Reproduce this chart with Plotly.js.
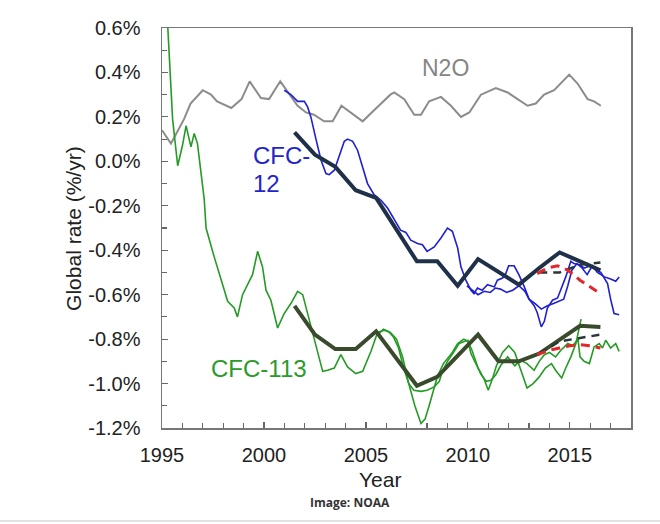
<!DOCTYPE html>
<html>
<head>
<meta charset="utf-8">
<script src="https://cdn.plot.ly/plotly-3.0.1.min.js"></script>
<style>html,body{margin:0;padding:0;background:#fff;}#chart{width:660px;height:524px;}</style>
</head>
<body>
<div id="chart"></div>
<script>
// ---- Data ----
const n2oX = [1995.0,1995.44,1996.08,1996.4,1997.0,1997.4,1997.7,1998.4,1998.9,1999.3,1999.85,2000.25,2000.8,2001.2,2001.65,2002.06,2002.45,2002.95,2003.37,2003.8,2004.27,2004.84,2005.4,2005.74,2006.2,2006.39,2006.88,2007.37,2007.7,2008.1,2008.68,2009.17,2009.66,2010.07,2010.64,2011.37,2011.95,2012.44,2012.93,2013.33,2013.74,2014.23,2014.97,2015.38,2015.87,2016.19,2016.52];
const n2oY = [0.14,0.08,0.19,0.26,0.32,0.30,0.27,0.24,0.28,0.36,0.285,0.28,0.36,0.31,0.25,0.22,0.21,0.18,0.18,0.25,0.22,0.18,0.23,0.26,0.30,0.31,0.28,0.21,0.21,0.27,0.29,0.25,0.20,0.22,0.30,0.33,0.31,0.28,0.25,0.26,0.30,0.32,0.39,0.35,0.28,0.27,0.25];

const cfc12aX = [2001.0,2001.32,2001.65,2001.98,2002.14,2002.3,2002.55,2002.8,2003.04,2003.2,2003.45,2003.69,2003.94,2004.1,2004.35,2004.59,2004.84,2005.08,2005.4,2005.74,2006.06,2006.39,2006.7,2006.96,2007.2,2007.53,2007.77,2008.0,2008.35,2008.68,2009.0,2009.24,2009.5,2009.66,2009.9,2010.15,2010.3,2010.47,2010.7,2010.96,2011.3,2011.45,2011.7,2011.86,2012.0,2012.27,2012.5,2012.77,2013.0,2013.25,2013.4,2013.6,2013.75,2013.9,2014.15,2014.4,2014.56,2014.8,2015.05,2015.2,2015.46,2015.7,2016.0,2016.3,2016.52,2016.85,2017.0,2017.17,2017.42];
const cfc12aY = [0.32,0.30,0.27,0.27,0.245,0.20,0.10,0.005,-0.055,-0.06,-0.04,0.02,0.09,0.10,0.09,0.05,-0.025,-0.10,-0.15,-0.175,-0.21,-0.265,-0.31,-0.32,-0.355,-0.37,-0.375,-0.405,-0.385,-0.345,-0.30,-0.315,-0.39,-0.475,-0.535,-0.58,-0.595,-0.57,-0.58,-0.555,-0.565,-0.535,-0.525,-0.505,-0.47,-0.47,-0.51,-0.565,-0.62,-0.65,-0.68,-0.745,-0.72,-0.66,-0.625,-0.615,-0.58,-0.52,-0.45,-0.46,-0.465,-0.48,-0.47,-0.49,-0.50,-0.55,-0.62,-0.685,-0.69];

const cfc12bX = [2009.95,2010.2,2010.5,2010.8,2011.1,2011.35,2011.6,2011.9,2012.2,2012.5,2012.8,2013.0,2013.3,2013.6,2013.9,2014.2,2014.5,2014.7,2014.9,2015.1,2015.35,2015.6,2015.85,2016.1,2016.35,2016.7,2017.0,2017.25,2017.42];
const cfc12bY = [-0.56,-0.58,-0.60,-0.585,-0.59,-0.57,-0.575,-0.59,-0.58,-0.56,-0.585,-0.62,-0.64,-0.665,-0.65,-0.64,-0.63,-0.62,-0.56,-0.49,-0.46,-0.48,-0.51,-0.47,-0.50,-0.52,-0.53,-0.54,-0.52];

const cfc12FitX = [2001.5,2002.5,2003.5,2004.5,2005.5,2006.5,2007.5,2008.5,2009.5,2010.5,2011.5,2012.5,2013.5,2014.5,2015.5,2016.5];
const cfc12FitY = [0.13,0.03,-0.025,-0.13,-0.165,-0.31,-0.45,-0.45,-0.56,-0.44,-0.50,-0.555,-0.48,-0.41,-0.45,-0.49];
const cfc12DashX = [2013.5,2014.5,2015.5,2016.5];
const cfc12DashY = [-0.50,-0.50,-0.465,-0.455];
const cfc12RedX = [2013.4,2013.9,2014.4,2014.9,2015.5,2016.0,2016.5];
const cfc12RedY = [-0.505,-0.48,-0.47,-0.49,-0.535,-0.565,-0.595];

const cfc113aX = [1995.2,1995.52,1995.77,1996.0,1996.18,1996.42,1996.58,1996.74,1997.07,1997.16,1997.56,1997.9,1998.22,1998.54,1998.7,1998.95,1999.28,1999.44,1999.69,1999.93,2000.1,2000.34,2000.67,2000.99,2001.32,2001.65,2001.9,2002.14,2002.47,2002.88,2003.12,2003.45,2003.77,2004.1,2004.5,2004.84,2005.25,2005.57,2005.9,2006.2,2006.5,2006.8,2007.1,2007.4,2007.7,2007.9,2008.1,2008.3,2008.5,2008.8,2009.2,2009.5,2009.8,2010.0,2010.2,2010.5,2010.8,2011.0,2011.2,2011.4,2011.7,2012.0,2012.3,2012.6,2012.9,2013.2,2013.5,2013.8,2014.1,2014.3,2014.6,2014.8,2015.05,2015.3,2015.55];
const cfc113aY = [0.75,0.19,-0.02,0.07,0.16,0.065,0.125,0.08,-0.17,-0.30,-0.43,-0.535,-0.63,-0.66,-0.70,-0.60,-0.535,-0.51,-0.405,-0.475,-0.58,-0.625,-0.75,-0.685,-0.64,-0.585,-0.60,-0.685,-0.805,-0.945,-0.94,-0.93,-0.87,-0.925,-0.955,-0.945,-0.855,-0.77,-0.76,-0.77,-0.80,-0.88,-1.00,-1.10,-1.18,-1.16,-1.10,-1.04,-0.97,-0.91,-0.865,-0.82,-0.80,-0.81,-0.85,-0.93,-0.98,-1.03,-0.98,-0.92,-0.86,-0.83,-0.86,-0.94,-1.02,-1.00,-0.97,-0.93,-0.91,-0.94,-0.975,-0.93,-0.88,-0.82,-0.71];

const cfc113bX = [2005.6,2005.85,2006.1,2006.35,2006.6,2006.85,2007.1,2007.35,2007.7,2008.0,2008.35,2008.6,2008.75,2009.0,2009.33,2009.57,2009.85,2010.0,2010.15,2010.4,2010.65,2010.9,2011.13,2011.37,2011.6,2011.95,2012.3,2012.6,2012.9,2013.25,2013.5,2013.75,2014.0,2014.3,2014.56,2014.9,2015.15,2015.4,2015.5,2015.7,2015.96,2016.19,2016.44,2016.6,2016.76,2017.0,2017.25,2017.42];
const cfc113bY = [-0.78,-0.755,-0.765,-0.79,-0.84,-0.93,-1.00,-1.03,-1.035,-1.03,-1.015,-0.99,-0.945,-0.90,-0.855,-0.82,-0.81,-0.805,-0.865,-0.915,-0.96,-0.99,-0.985,-0.96,-0.92,-0.88,-0.92,-0.895,-0.91,-0.94,-0.90,-0.87,-0.86,-0.88,-0.85,-0.82,-0.83,-0.80,-0.88,-0.90,-0.91,-0.835,-0.82,-0.84,-0.805,-0.84,-0.82,-0.855];

const cfc113FitX = [2001.5,2002.5,2003.5,2004.5,2005.5,2006.5,2007.5,2008.5,2009.5,2010.5,2011.5,2012.5,2013.5,2014.5,2015.5,2016.5];
const cfc113FitY = [-0.65,-0.78,-0.845,-0.845,-0.765,-0.89,-1.01,-0.97,-0.875,-0.78,-0.90,-0.90,-0.865,-0.80,-0.74,-0.745];
const cfc113DashX = [2013.5,2014.5,2015.5,2016.5];
const cfc113DashY = [-0.865,-0.81,-0.795,-0.78];
const cfc113RedX = [2013.4,2014.0,2014.5,2015.0,2015.5,2016.0,2016.5];
const cfc113RedY = [-0.87,-0.85,-0.84,-0.83,-0.825,-0.83,-0.84];

const xTickVals = [1995,2000,2005,2010,2015];
const xTickText = ['1995','2000','2005','2010','2015'];
const yTickVals = [0.6,0.4,0.2,0.0,-0.2,-0.4,-0.6,-0.8,-1.0,-1.2];
const yTickText = ['0.6%','0.4%','0.2%','0.0%','-0.2%','-0.4%','-0.6%','-0.8%','-1.0%','-1.2%'];

// ---- Styling ----
const FONT = 'Liberation Sans, Arial, sans-serif';
const C = {gray:'#8c8c8c', blue:'#2020d2', navy:'#1f3049', green:'#259b25', olive:'#3a4a2c', red:'#e5262b', dark:'#2b3838'};

function line(x, y, color, width, dash) {
  return {x: x, y: y, type: 'scatter', mode: 'lines', hoverinfo: 'skip',
          line: {color: color, width: width, dash: dash || 'solid', shape: 'linear'}};
}

const traces = [
  line(n2oX, n2oY, C.gray, 2),
  line(cfc113aX, cfc113aY, C.green, 1.6),
  line(cfc113bX, cfc113bY, C.green, 1.6),
  line(cfc12aX, cfc12aY, C.blue, 1.6),
  line(cfc12bX, cfc12bY, C.blue, 1.6),
  line(cfc12FitX, cfc12FitY, C.navy, 4),
  line(cfc113FitX, cfc113FitY, C.olive, 4),
  line(cfc12DashX, cfc12DashY, C.dark, 2.5, '8px,6px'),
  line(cfc113DashX, cfc113DashY, C.dark, 2.5, '8px,6px'),
  line(cfc12RedX, cfc12RedY, C.red, 3, '9px,6px'),
  line(cfc113RedX, cfc113RedY, C.red, 3, '9px,6px')
];

const layout = {
  width: 660, height: 524,
  margin: {l: 162, r: 29, t: 28, b: 96},
  paper_bgcolor: '#fff', plot_bgcolor: '#fff',
  showlegend: false,
  font: {family: FONT, color: '#222'},
  xaxis: {
    range: [1995, 2018], tickmode: 'array', tickvals: xTickVals, ticktext: xTickText,
    ticks: 'inside', ticklen: 6, tickwidth: 1.2, tickcolor: '#666',
    minor: {tickmode: 'linear', tick0: 1995, dtick: 1, ticks: 'inside', ticklen: 5, tickcolor: '#666', tickwidth: 1.2},
    showline: true, linecolor: '#777', linewidth: 1.5, mirror: true,
    showgrid: false, zeroline: false, ticklabelstandoff: 8,
    tickfont: {family: FONT, size: 20, color: '#222'}
  },
  yaxis: {
    range: [-1.2, 0.6], tickmode: 'array', tickvals: yTickVals, ticktext: yTickText,
    ticks: 'inside', ticklen: 6, tickwidth: 1.2, tickcolor: '#666',
    minor: {tickmode: 'linear', tick0: 0, dtick: 0.1, ticks: 'inside', ticklen: 5, tickcolor: '#666', tickwidth: 1.2},
    showline: true, linecolor: '#777', linewidth: 1.5, mirror: true,
    showgrid: false, zeroline: false, ticklabelstandoff: 16,
    tickfont: {family: FONT, size: 20, color: '#222'}
  },
  annotations: [
    {xref: 'paper', yref: 'paper', x: -0.19, y: 0.5, text: 'Global rate (%/yr)', textangle: -90,
     showarrow: false, xanchor: 'center', yanchor: 'middle', font: {family: FONT, size: 21, color: '#222'}},
    {xref: 'paper', yref: 'paper', x: 0.465, y: -0.13, text: 'Year',
     showarrow: false, xanchor: 'center', yanchor: 'middle', font: {family: FONT, size: 21, color: '#222'}},
    {xref: 'paper', yref: 'paper', x: 0.4, y: -0.185, text: '<b>Image: NOAA</b>',
     showarrow: false, xanchor: 'center', yanchor: 'middle', font: {family: 'Open Sans, sans-serif', size: 12, color: '#333'}},
    {xref: 'x', yref: 'y', x: 2008.9, y: 0.42, text: 'N2O',
     showarrow: false, xanchor: 'center', yanchor: 'middle', font: {family: FONT, size: 23, color: '#858585'}},
    {xref: 'x', yref: 'y', x: 1999.36, y: 0.028, text: 'CFC-',
     showarrow: false, xanchor: 'left', yanchor: 'middle', font: {family: FONT, size: 24, color: '#2424cc'}},
    {xref: 'x', yref: 'y', x: 1999.36, y: -0.098, text: '12',
     showarrow: false, xanchor: 'left', yanchor: 'middle', font: {family: FONT, size: 24, color: '#2424cc'}},
    {xref: 'x', yref: 'y', x: 1999.75, y: -0.93, text: 'CFC-113',
     showarrow: false, xanchor: 'center', yanchor: 'middle', font: {family: FONT, size: 24, color: '#2a9a2a'}}
  ],
  shapes: [
    {type: 'line', xref: 'paper', yref: 'paper', x0: -0.3454, x1: 1.0618, y0: -0.2325, y1: -0.2325,
     line: {color: '#e2e2e2', width: 2}}
  ]
};

Plotly.newPlot('chart', traces, layout, {staticPlot: true, displayModeBar: false});
</script>
</body>
</html>
